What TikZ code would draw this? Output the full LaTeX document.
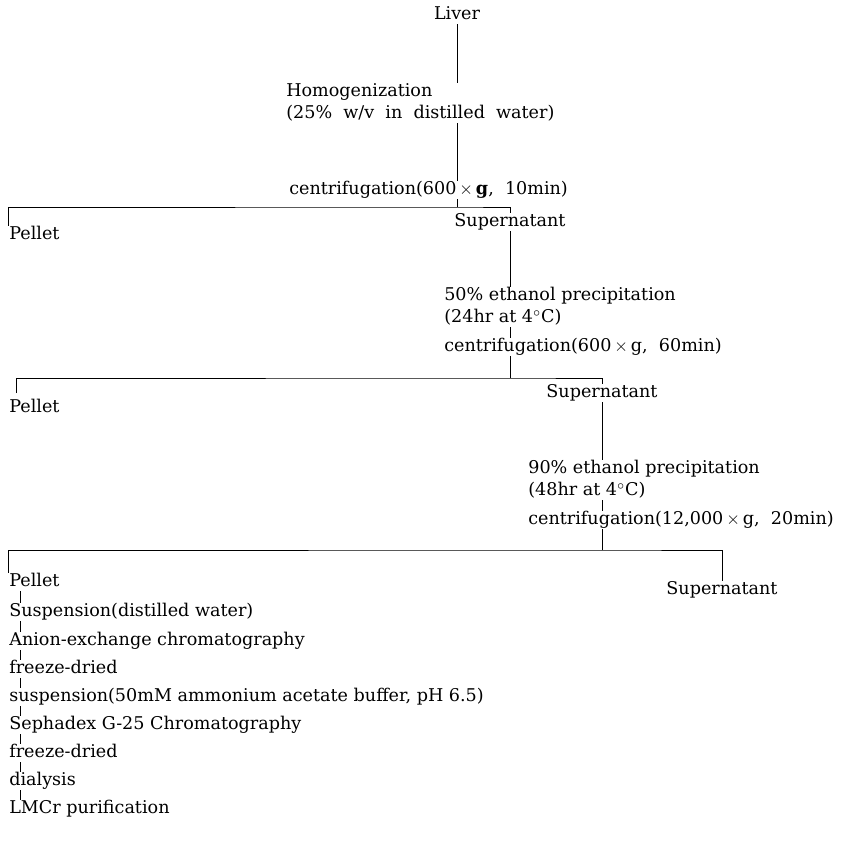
\documentclass[tikz,border=0pt]{standalone}
\usepackage{fontspec}
\setmainfont{DejaVu Serif}
\usepackage{tikz}
\tikzset{
  lbl/.style={inner sep=0.5pt, text height=7pt, text depth=2pt, font=\fontsize{10}{12}\selectfont},
  stepl/.style={lbl, anchor=west},
}
\begin{document}
\begin{tikzpicture}[x=0.02cm, y=-0.02cm, line width=0.5pt]
\useasboundingbox (0,0) rectangle (868,858);
% main chain
\node[lbl] (liver) at (457,15) {Liver};
\node[stepl] (homog) at (285,92) {Homogenization};
\node[stepl] (homogb) at (285,114) {(25\% \ w/v \ in \ distilled \ water)};
\node[stepl] (cen1) at (288,190) {centrifugation(600\,$\times$\,\textbf{g}, \ 10min)};
\coordinate (b1) at (457,207);
\node[stepl] (pel1) at (8,235) {Pellet};
\node[lbl] (sup1) at (510,222) {Supernatant};
\draw (liver) -- (liver |- homog.north);
\draw (liver |- homogb.south) -- (liver |- cen1.north);
\draw (liver |- cen1.south) -- (b1);
\draw (pel1.north west) |- (b1) -| (sup1.north);
% second step
\node[stepl] (eth1) at (443,296) {50\% ethanol precipitation};
\node[stepl] (eth1b) at (443,318) {(24hr at 4$^{\circ}$C)};
\node[stepl] (cen2) at (443,347) {centrifugation(600\,$\times$\,g, \ 60min)};
\coordinate (b2) at (510,378);
\coordinate (l2) at (16,393);
\node[stepl] (pel2) at (8,408) {Pellet};
\node[lbl] (sup2) at (602,393) {Supernatant};
\draw (sup1) -- (sup1 |- eth1.north);
\draw (sup1 |- eth1b.south) -- (sup1 |- cen2.north);
\draw (sup1 |- cen2.south) -- (b2);
\draw (l2) |- (b2) -| (sup2.north);
% third step
\node[stepl] (eth2) at (527,469) {90\% ethanol precipitation};
\node[stepl] (eth2b) at (527,491) {(48hr at 4$^{\circ}$C)};
\node[stepl] (cen3) at (527,520) {centrifugation(12,000\,$\times$\,g, \ 20min)};
\coordinate (b3) at (602,550);
\node[stepl] (pel3) at (8,582) {Pellet};
\node[lbl] (sup3) at (722,590) {Supernatant};
\draw (sup2) -- (sup2 |- eth2.north);
\draw (sup2 |- eth2b.south) -- (sup2 |- cen3.north);
\draw (sup2 |- cen3.south) -- (b3);
\draw (pel3.north west) |- (b3) -| (sup3.north);
% purification of the pellet
\node[stepl] (s1) at (8,612) {Suspension(distilled water)};
\node[stepl] (s2) at (8,641) {Anion-exchange chromatography};
\node[stepl] (s3) at (8,669) {freeze-dried};
\node[stepl] (s4) at (8,697) {suspension(50mM ammonium acetate buffer, pH 6.5)};
\node[stepl] (s5) at (8,725) {Sephadex G-25 Chromatography};
\node[stepl] (s6) at (8,753) {freeze-dried};
\node[stepl] (s7) at (8,781) {dialysis};
\node[stepl] (s8) at (8,809) {LMCr purification};
\coordinate (lx) at (20,0);
\foreach \a/\b in {pel3/s1, s1/s2, s2/s3, s3/s4, s4/s5, s5/s6, s6/s7, s7/s8}
  \draw (\a.south -| lx) -- (\b.north -| lx);
\end{tikzpicture}
\end{document}
